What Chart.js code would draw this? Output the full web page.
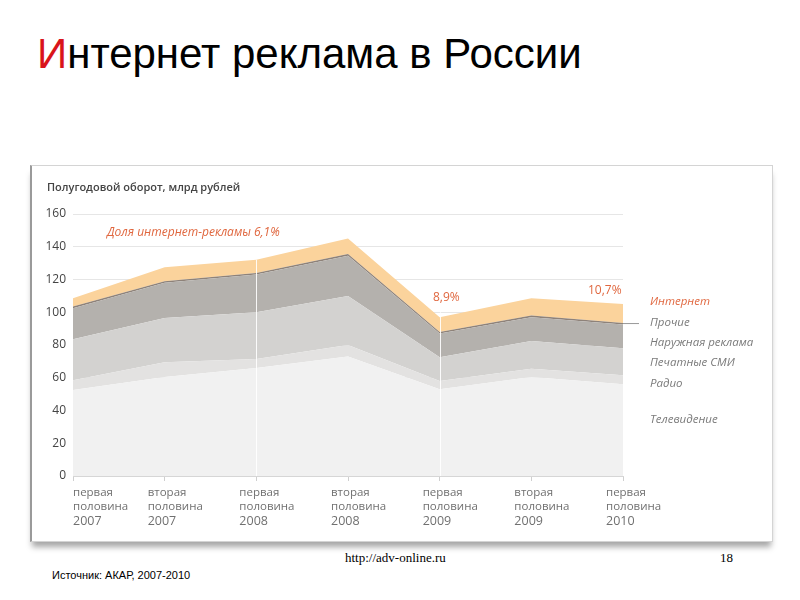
<!DOCTYPE html>
<html lang="ru">
<head>
    <meta charset="UTF-8">
    <title>Интернет реклама в России</title>
    <script src="https://cdn.jsdelivr.net/npm/chart.js"></script>
    <style>
        body {
            margin: 0;
            width: 800px;
            height: 600px;
            background: #fff;
            position: relative;
            overflow: hidden;
            font-family: "Liberation Sans", Arial, sans-serif;
        }

        h1 {
            position: absolute;
            left: 37px;
            top: 30px;
            margin: 0;
            font-weight: normal;
            font-size: 42px;
            color: #000;
        }

        h1 span {
            color: #d9141b;
        }

        .card {
            position: absolute;
            left: 30px;
            top: 165px;
            width: 740px;
            height: 375px;
            background: #fff;
            border: 1px solid #d4d4d4;
            border-left: 2px solid #9a9a9a;
            box-shadow: 0 7px 6px -2px rgba(0, 0, 0, 0.35);
        }

        .url {
            position: absolute;
            left: 345px;
            top: 550px;
            font-family: "Liberation Serif", serif;
            font-size: 13px;
        }

        .page {
            position: absolute;
            left: 720px;
            top: 550px;
            font-family: "Liberation Serif", serif;
            font-size: 13px;
        }

        .source {
            position: absolute;
            left: 52px;
            top: 569px;
            font-size: 11px;
        }
    </style>
</head>

<body>
    <h1><span>И</span>нтернет реклама в России</h1>

    <div class="card">
        <canvas id="adChart" width="740" height="375"></canvas>
    </div>

    <div class="url">http://adv-online.ru</div>
    <div class="page">18</div>
    <div class="source">Источник: АКАР, 2007-2010</div>

    <script>
        // half-year periods
        const periods = [
            ["первая", "половина", "2007"],
            ["вторая", "половина", "2007"],
            ["первая", "половина", "2008"],
            ["вторая", "половина", "2008"],
            ["первая", "половина", "2009"],
            ["вторая", "половина", "2009"],
            ["первая", "половина", "2010"]
        ];

        // billions of rubles per half-year (stacked bottom to top)
        const tv = [52.5, 60.5, 66, 73, 53, 60.5, 56];
        const radio = [6, 9, 5.5, 7, 5, 5, 5.5];
        const press = [25, 27, 28.5, 30, 14.5, 17, 16.5];
        const outdoor = [19, 21.5, 23, 24.5, 14.5, 14.5, 14.5];
        const other = [1, 1, 1, 1, 1, 1, 1];
        const internet = [5, 8.5, 8, 9.5, 9, 10.5, 11.5];

        const yTicks = [0, 20, 40, 60, 80, 100, 120, 140, 160];

        const seriesNames = ["Телевидение", "Радио", "Печатные СМИ", "Наружная реклама", "Прочие", "Интернет"];
        const seriesColors = ["#f1f1f1", "#e3e2e1", "#d3d2d0", "#b4b1ad", "#8e8279", "#fbd39c"];

        const font = "'Open Sans', 'Noto Sans', sans-serif";

        function area(i, values) {
            return {
                label: seriesNames[i],
                data: values,
                backgroundColor: seriesColors[i],
                borderColor: seriesColors[i],
                borderWidth: 0,
                pointRadius: 0,
                tension: 0,
                fill: i === 0 ? 'origin' : '-1'
            };
        }

        // texts on the chart: x labels, share notes, side legend, white marker lines
        const decorations = {
            id: 'decorations',
            beforeDatasetsDraw(chart) {
                const ctx = chart.ctx;
                ctx.save();
                ctx.fillStyle = '#444';
                ctx.font = "600 11px " + font;
                ctx.textBaseline = 'alphabetic';
                ctx.fillText("Полугодовой оборот, млрд рублей", 15, 25);
                ctx.restore();
            },
            afterDatasetsDraw(chart) {
                const ctx = chart.ctx;
                const x = chart.scales.x;
                const y = chart.scales.y;
                const area = chart.chartArea;
                ctx.save();

                // thin white marker lines at the first halves of 2008 and 2009
                ctx.strokeStyle = 'rgba(255,255,255,0.9)';
                ctx.lineWidth = 1;
                [2, 4].forEach(i => {
                    const px = Math.round(x.getPixelForValue(i)) + 0.5;
                    ctx.beginPath();
                    ctx.moveTo(px, i === 4 ? y.getPixelForValue(100) : y.getPixelForValue(132));
                    ctx.lineTo(px, area.bottom);
                    ctx.stroke();
                });

                // leader to "Прочие"
                ctx.strokeStyle = '#999';
                ctx.beginPath();
                ctx.moveTo(area.right, y.getPixelForValue(93.4) + 0.5);
                ctx.lineTo(area.right + 16, y.getPixelForValue(93.4) + 0.5);
                ctx.stroke();

                // share notes
                ctx.fillStyle = '#e0673f';
                ctx.font = "italic 12px " + font;
                ctx.fillText("Доля интернет-рекламы 6,1%", 75, 70);
                ctx.font = "12px " + font;
                ctx.fillText("8,9%", 401, 135);
                ctx.fillText("10,7%", 556, 128);

                // side legend
                const legendY = [139, 160, 180, 200, 221, 257];
                const legendOrder = [5, 4, 3, 2, 1, 0];
                ctx.font = "italic 11.5px " + font;
                legendOrder.forEach((s, k) => {
                    ctx.fillStyle = s === 5 ? '#e0673f' : '#7a7a7a';
                    ctx.fillText(seriesNames[s], 618, legendY[k]);
                });

                // x labels, left aligned a little before each point
                ctx.fillStyle = '#707070';
                periods.forEach((p, i) => {
                    const px = Math.max(area.left, x.getPixelForValue(i) - 17);
                    ctx.font = "11.5px " + font;
                    ctx.fillText(p[0], px, area.bottom + 20);
                    ctx.fillText(p[1], px, area.bottom + 34);
                    ctx.font = "12.5px " + font;
                    ctx.fillText(p[2], px, area.bottom + 49);
                });
                ctx.restore();
            }
        };

        new Chart(document.getElementById('adChart'), {
            type: 'line',
            data: {
                labels: periods.map(p => p.join(' ')),
                datasets: [
                    area(0, tv),
                    area(1, radio),
                    area(2, press),
                    area(3, outdoor),
                    area(4, other),
                    area(5, internet)
                ]
            },
            options: {
                responsive: false,
                animation: false,
                layout: {
                    padding: { top: 48, right: 149, left: 0, bottom: 0 }
                },
                plugins: {
                    legend: { display: false },
                    tooltip: { enabled: false }
                },
                scales: {
                    x: {
                        offset: false,
                        grid: {
                            drawOnChartArea: false,
                            tickLength: 5,
                            color: '#cfcfcf'
                        },
                        border: { color: '#d6d6d6' },
                        ticks: { display: false },
                        afterFit: scale => { scale.height = 65; }
                    },
                    y: {
                        stacked: true,
                        min: 0,
                        max: 160,
                        afterBuildTicks: scale => {
                            scale.ticks = yTicks.map(v => ({ value: v }));
                        },
                        afterFit: scale => { scale.width = 41; },
                        grid: {
                            color: '#e6e6e6',
                            drawTicks: false
                        },
                        border: { display: false },
                        ticks: {
                            padding: 7,
                            color: '#444',
                            font: { family: font, size: 12 }
                        }
                    }
                }
            },
            plugins: [decorations]
        });
    </script>
</body>

</html>
